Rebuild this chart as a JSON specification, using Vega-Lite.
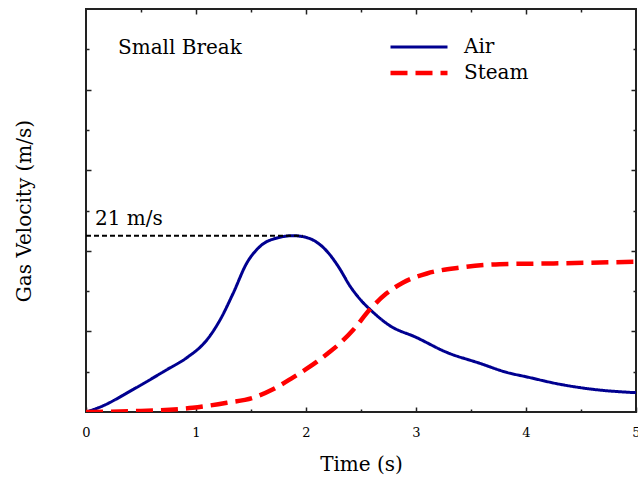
{
  "$schema": "https://vega.github.io/schema/vega-lite/v6.json",
  "width": 550,
  "height": 403,
  "autosize": {"type": "none"},
  "padding": {"left": 86, "top": 9, "right": 2, "bottom": 70},
  "background": "white",
  "config": {
    "view": {"stroke": "#222", "strokeWidth": 2},
    "font": "DejaVu Serif",
    "axis": {"domain": false, "grid": false, "tickColor": "#222", "tickWidth": 1.5, "labelFont": "DejaVu Serif", "titleFont": "DejaVu Serif", "titleFontWeight": "normal", "labelColor": "#000", "titleColor": "#000"}
  },
  "datasets": {
    "curves": [
      {"series": "Air", "t": 0, "v": 0},
      {"series": "Air", "t": 0.13, "v": 0.6},
      {"series": "Air", "t": 0.43, "v": 2.7},
      {"series": "Air", "t": 0.73, "v": 5.0},
      {"series": "Air", "t": 0.92, "v": 6.5},
      {"series": "Air", "t": 1.1, "v": 8.6},
      {"series": "Air", "t": 1.22, "v": 11.0},
      {"series": "Air", "t": 1.34, "v": 14.2},
      {"series": "Air", "t": 1.46, "v": 17.7},
      {"series": "Air", "t": 1.58, "v": 19.7},
      {"series": "Air", "t": 1.76, "v": 20.8},
      {"series": "Air", "t": 1.88, "v": 21.0},
      {"series": "Air", "t": 2.0, "v": 20.8},
      {"series": "Air", "t": 2.1, "v": 20.2},
      {"series": "Air", "t": 2.2, "v": 19.0},
      {"series": "Air", "t": 2.3, "v": 17.2},
      {"series": "Air", "t": 2.4, "v": 15.0},
      {"series": "Air", "t": 2.5, "v": 13.3},
      {"series": "Air", "t": 2.6, "v": 12.0},
      {"series": "Air", "t": 2.76, "v": 10.3},
      {"series": "Air", "t": 3.0, "v": 8.9},
      {"series": "Air", "t": 3.28, "v": 7.1},
      {"series": "Air", "t": 3.58, "v": 5.8},
      {"series": "Air", "t": 3.83, "v": 4.7},
      {"series": "Air", "t": 4.0, "v": 4.2},
      {"series": "Air", "t": 4.31, "v": 3.3},
      {"series": "Air", "t": 4.61, "v": 2.7},
      {"series": "Air", "t": 5.0, "v": 2.3},
      {"series": "Steam", "t": 0, "v": 0},
      {"series": "Steam", "t": 0.43, "v": 0.1},
      {"series": "Steam", "t": 0.97, "v": 0.5},
      {"series": "Steam", "t": 1.28, "v": 1.1},
      {"series": "Steam", "t": 1.52, "v": 1.7},
      {"series": "Steam", "t": 1.7, "v": 2.7},
      {"series": "Steam", "t": 1.88, "v": 4.1},
      {"series": "Steam", "t": 2.0, "v": 5.1},
      {"series": "Steam", "t": 2.1, "v": 6.0},
      {"series": "Steam", "t": 2.2, "v": 7.0},
      {"series": "Steam", "t": 2.31, "v": 8.2},
      {"series": "Steam", "t": 2.43, "v": 9.8},
      {"series": "Steam", "t": 2.58, "v": 12.2},
      {"series": "Steam", "t": 2.73, "v": 14.1},
      {"series": "Steam", "t": 2.88, "v": 15.4},
      {"series": "Steam", "t": 3.1, "v": 16.5},
      {"series": "Steam", "t": 3.4, "v": 17.2},
      {"series": "Steam", "t": 3.76, "v": 17.6},
      {"series": "Steam", "t": 4.25, "v": 17.7},
      {"series": "Steam", "t": 5.0, "v": 17.9}
    ]
  },
  "resolve": {"axis": {"x": "independent", "y": "independent"}},
  "layer": [
    {
      "data": {"name": "curves"},
      "mark": {"type": "line", "interpolate": "monotone", "clip": true},
      "encoding": {
        "x": {"field": "t", "type": "quantitative", "scale": {"domain": [0, 5], "nice": false, "zero": false},
          "axis": {"orient": "bottom", "title": "Time (s)", "titleFontSize": 20, "titlePadding": 13, "labelFontSize": 13,
            "values": [0, 0.5, 1, 1.5, 2, 2.5, 3, 3.5, 4, 4.5, 5],
            "labelExpr": "datum.value % 1 === 0 ? datum.value + '' : ''",
            "tickSize": {"expr": "datum.value % 1 === 0 ? -5 : -3"}, "labelPadding": 19, "labelFlush": false, "labelOverlap": false}},
        "y": {"field": "v", "type": "quantitative", "scale": {"domain": [0, 48], "nice": false},
          "axis": {"orient": "left", "title": "Gas Velocity (m/s)", "titleFontSize": 20, "titlePadding": 51, "labels": false,
            "values": [4.8, 9.6, 14.4, 19.2, 24, 28.8, 33.6, 38.4, 43.2],
            "tickSize": {"expr": "abs(datum.value % 9.6) < 0.01 ? -5 : -3"}}},
        "color": {"field": "series", "type": "nominal", "scale": {"domain": ["Air", "Steam"], "range": ["#000090", "#ff0000"]},
          "legend": {"orient": "none", "legendX": 321, "legendY": 27, "title": null, "symbolType": "M-3,0L3,0", "symbolSize": 361,
            "labelFont": "DejaVu Serif", "labelFontSize": 20, "labelColor": "#000", "labelOffset": 33, "rowPadding": 4, "padding": 0}},
        "strokeDash": {"field": "series", "type": "nominal", "scale": {"domain": ["Air", "Steam"], "range": [[1, 0], [17, 8]]}, "legend": null},
        "strokeWidth": {"field": "series", "type": "nominal", "scale": {"domain": ["Air", "Steam"], "range": [3, 4.5]}, "legend": null}
      }
    },
    {
      "data": {"values": [{}]},
      "mark": {"type": "rule", "color": "#000", "strokeWidth": 2, "strokeDash": [5, 3]},
      "encoding": {
        "x": {"datum": 0, "type": "quantitative", "scale": {"domain": [0, 5], "nice": false, "zero": false},
          "axis": {"orient": "top", "title": null, "labels": false, "values": [0.5, 1, 1.5, 2, 2.5, 3, 3.5, 4, 4.5],
            "tickSize": {"expr": "datum.value % 1 === 0 ? -5 : -3"}}},
        "x2": {"datum": 1.97},
        "y": {"datum": 21, "type": "quantitative", "scale": {"domain": [0, 48], "nice": false},
          "axis": {"orient": "right", "title": null, "labels": false,
            "values": [4.8, 9.6, 14.4, 19.2, 24, 28.8, 33.6, 38.4, 43.2],
            "tickSize": {"expr": "abs(datum.value % 9.6) < 0.01 ? -5 : -3"}}}
      }
    },
    {
      "data": {"values": [{}]},
      "mark": {"type": "text", "text": "Small Break", "fontSize": 20, "font": "DejaVu Serif", "align": "left", "baseline": "alphabetic", "color": "#000"},
      "encoding": {
        "x": {"datum": 0.291, "type": "quantitative", "axis": null},
        "y": {"datum": 42.64, "type": "quantitative", "axis": null}
      }
    },
    {
      "data": {"values": [{}]},
      "mark": {"type": "text", "text": "21 m/s", "fontSize": 20, "font": "DejaVu Serif", "align": "left", "baseline": "alphabetic", "color": "#000"},
      "encoding": {
        "x": {"datum": 0.082, "type": "quantitative", "axis": null},
        "y": {"datum": 22.27, "type": "quantitative", "axis": null}
      }
    }
  ]
}
